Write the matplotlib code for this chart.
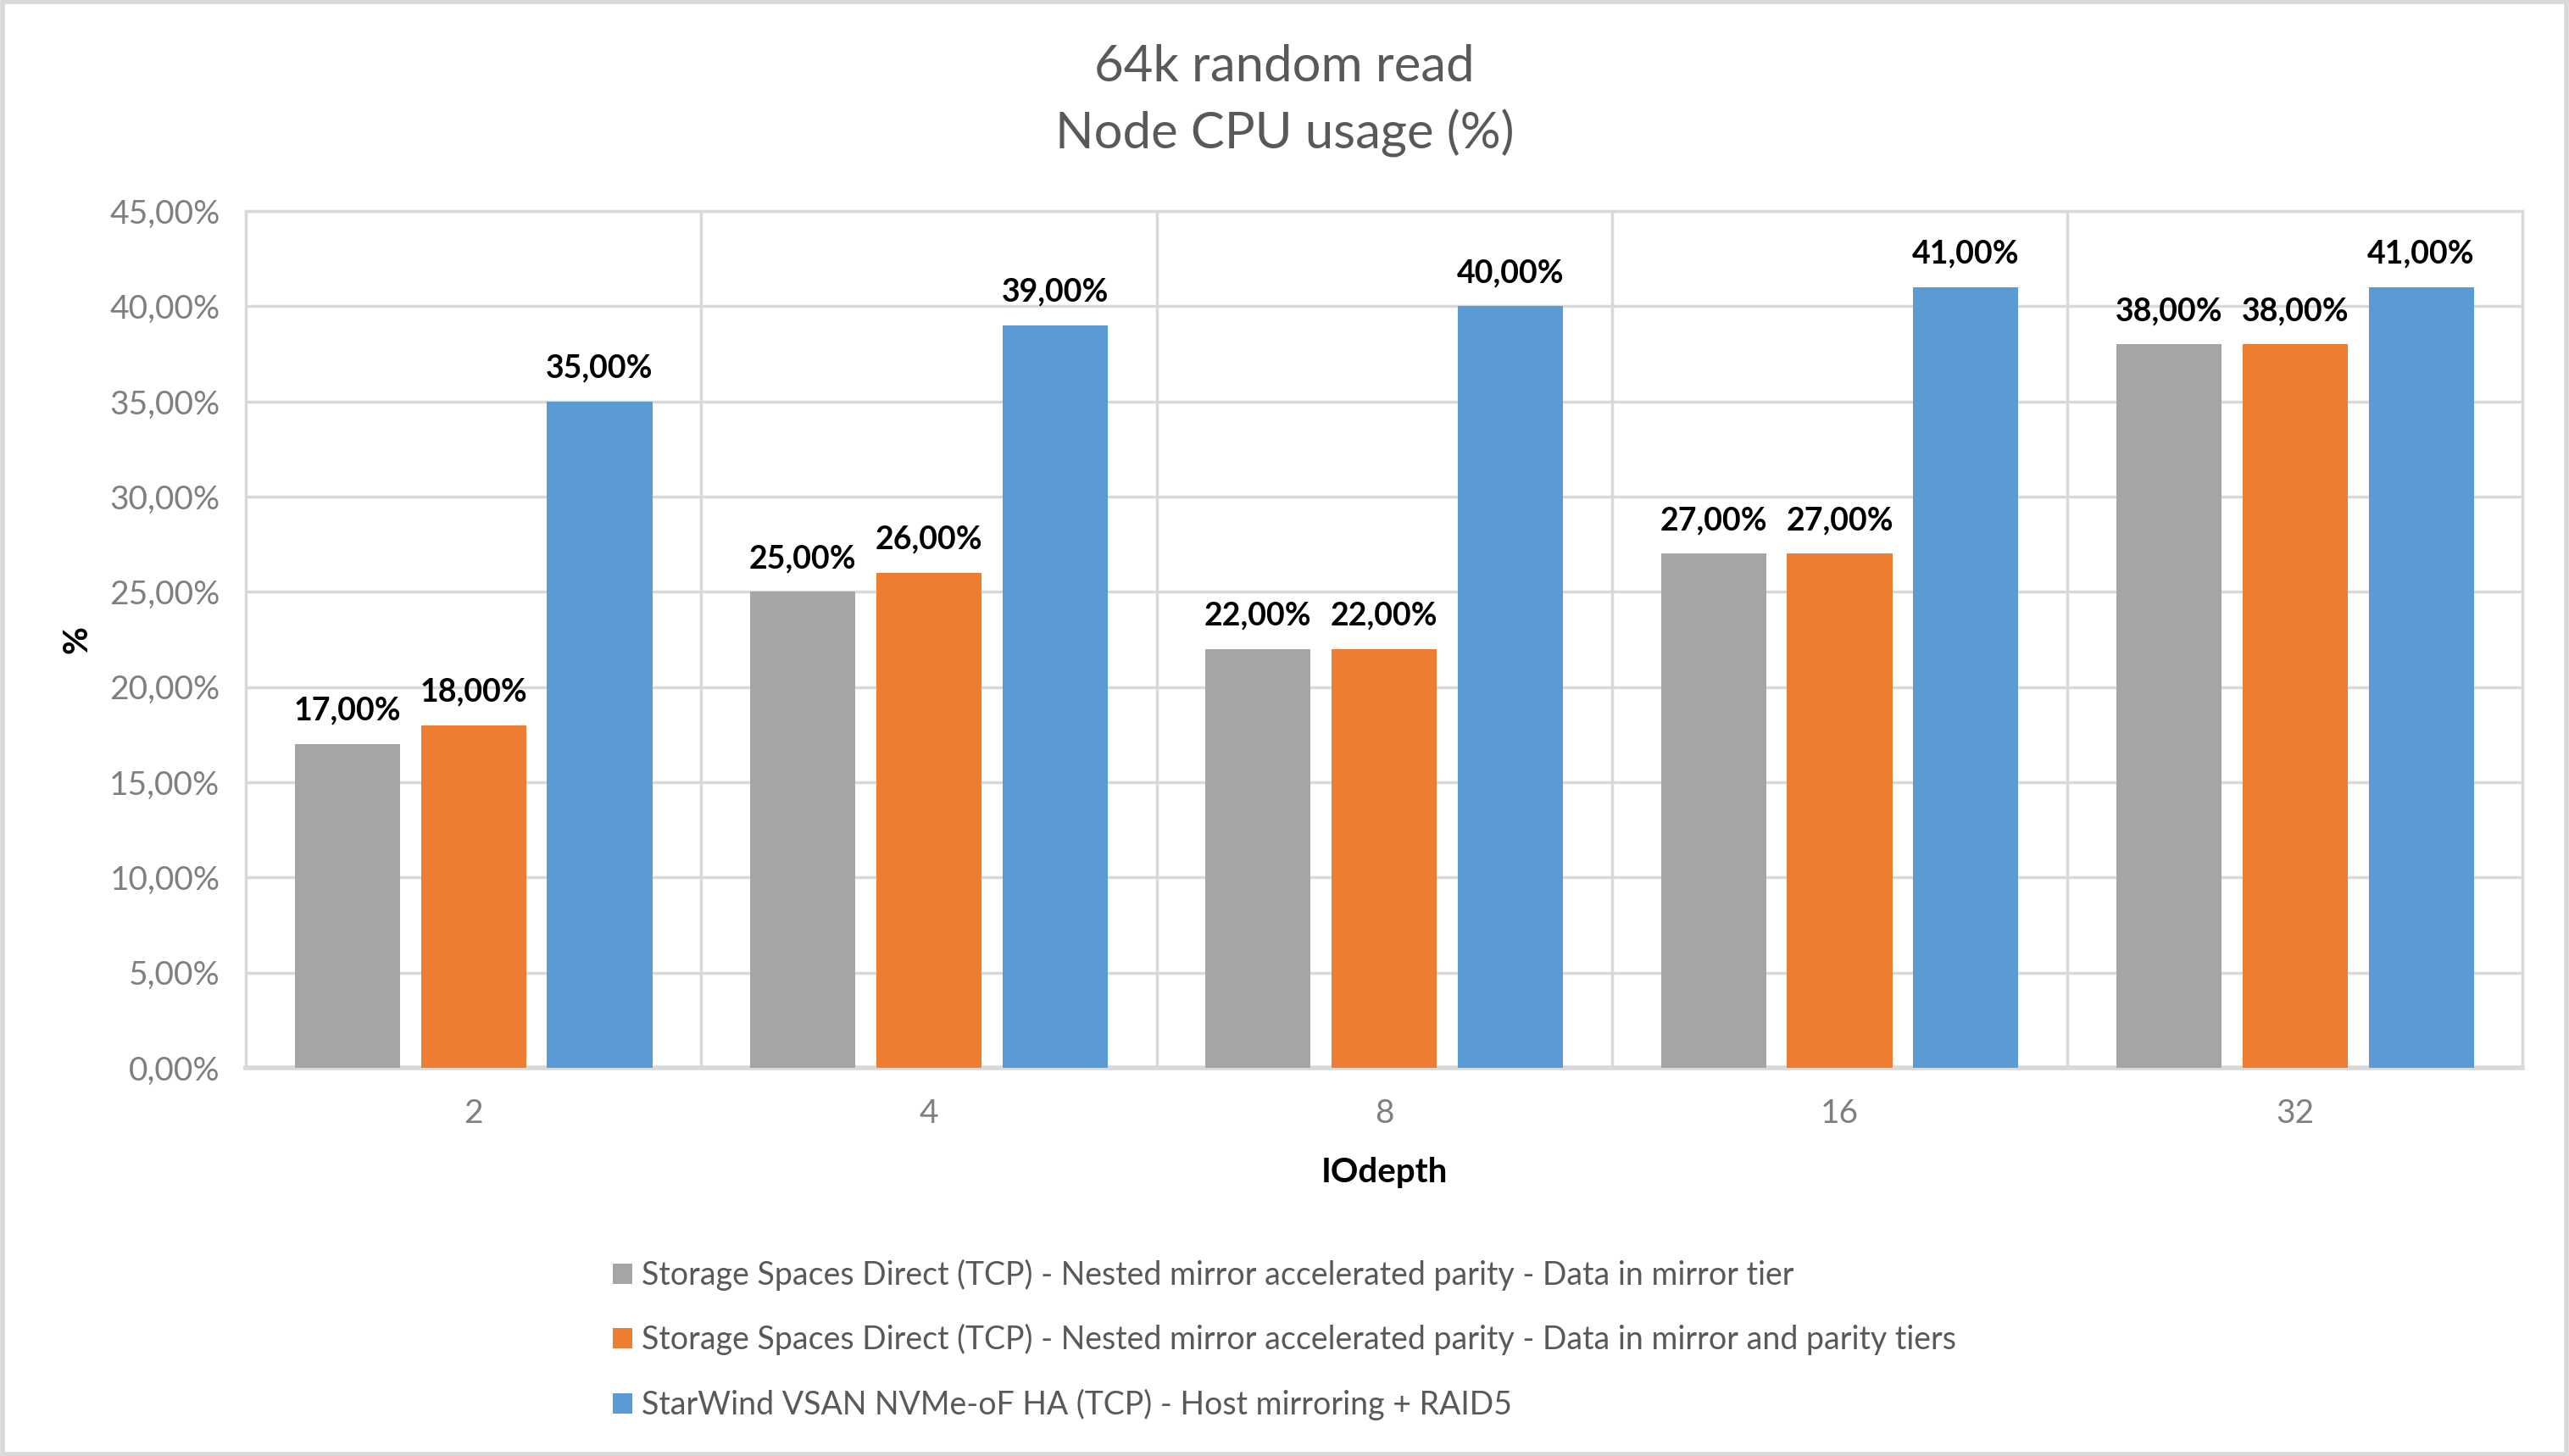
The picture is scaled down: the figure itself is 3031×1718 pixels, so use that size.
import matplotlib
matplotlib.use("Agg")
import matplotlib.pyplot as plt
from matplotlib.patches import Rectangle
import numpy as np

categories = ["2", "4", "8", "16", "32"]
series_names = [
    "Storage Spaces Direct (TCP) - Nested mirror accelerated parity - Data in mirror tier",
    "Storage Spaces Direct (TCP) - Nested mirror accelerated parity - Data in mirror and parity tiers",
    "StarWind VSAN NVMe-oF HA (TCP) - Host mirroring + RAID5",
]
s2d_mirror = [17, 25, 22, 27, 38]
s2d_mirror_parity = [18, 26, 22, 27, 38]
starwind = [35, 39, 40, 41, 41]
yticks = [0, 5, 10, 15, 20, 25, 30, 35, 40, 45]

colors = ["#A5A5A5", "#ED7D31", "#5B9BD5"]
FONT = "Lato"
plt.rcParams["font.family"] = [FONT, "DejaVu Sans"]

fig = plt.figure(figsize=(30.31, 17.18), dpi=100)
ax = fig.add_axes([0.0957, 0.2666, 0.8863, 0.5884])

x = np.arange(len(categories))
bw = 0.231
step = 0.277
all_series = [s2d_mirror, s2d_mirror_parity, starwind]
for i, vals in enumerate(all_series):
    xs = x + (i - 1) * step
    ax.bar(xs, vals, width=bw, color=colors[i], label=series_names[i], zorder=3)
    for xi, v in zip(xs, vals):
        ax.annotate(f"{v:.2f}%".replace(".", ","), (xi, v), xytext=(0, 16),
                    textcoords="offset points", ha="center", va="bottom",
                    fontsize=27, fontweight="bold", color="black")

ax.set_xlim(-0.5, len(categories) - 0.5)
ax.set_ylim(0, 45)
ax.set_yticks(yticks)
ax.set_yticklabels([f"{t:.2f}%".replace(".", ",") for t in yticks])
ax.set_xticks(x)
ax.set_xticklabels(categories)
ax.set_xticks(np.arange(0.5, len(categories) - 0.5, 1), minor=True)
ax.tick_params(axis="both", which="both", length=0, labelsize=28, colors="#7F7F7F")
ax.tick_params(axis="x", pad=26)
ax.tick_params(axis="y", pad=22)
ax.grid(axis="y", which="major", color="#D9D9D9", linewidth=2.5, zorder=0)
ax.grid(axis="x", which="minor", color="#D9D9D9", linewidth=2.5, zorder=0)
for sp in ax.spines.values():
    sp.set_color("#D9D9D9")
    sp.set_linewidth(2.5)
ax.spines["bottom"].set_linewidth(4)

ax.set_xlabel("IOdepth", fontsize=29, fontweight="bold", color="black", labelpad=24)
ax.set_ylabel("%", fontsize=29, fontweight="bold", color="black", labelpad=14)

fig.text(0.5, 1 - 79 / 1718, "64k random read", ha="center", va="center",
         fontsize=43, color="#595959")
fig.text(0.5, 1 - 157 / 1718, "Node CPU usage (%)", ha="center", va="center",
         fontsize=43, color="#595959")

fig.legend(loc="upper left", bbox_to_anchor=(0.2275, 1 - 1452 / 1718), ncol=1,
           frameon=False, fontsize=27, labelcolor="#595959",
           handlelength=0.6, handleheight=0.6, handletextpad=0.3,
           labelspacing=1.05)

fig.patches.append(Rectangle((0.001, 0.001), 0.998, 0.998, transform=fig.transFigure,
                             fill=False, edgecolor="#D9D9D9", linewidth=4))

fig.savefig("out.png", dpi=100)
